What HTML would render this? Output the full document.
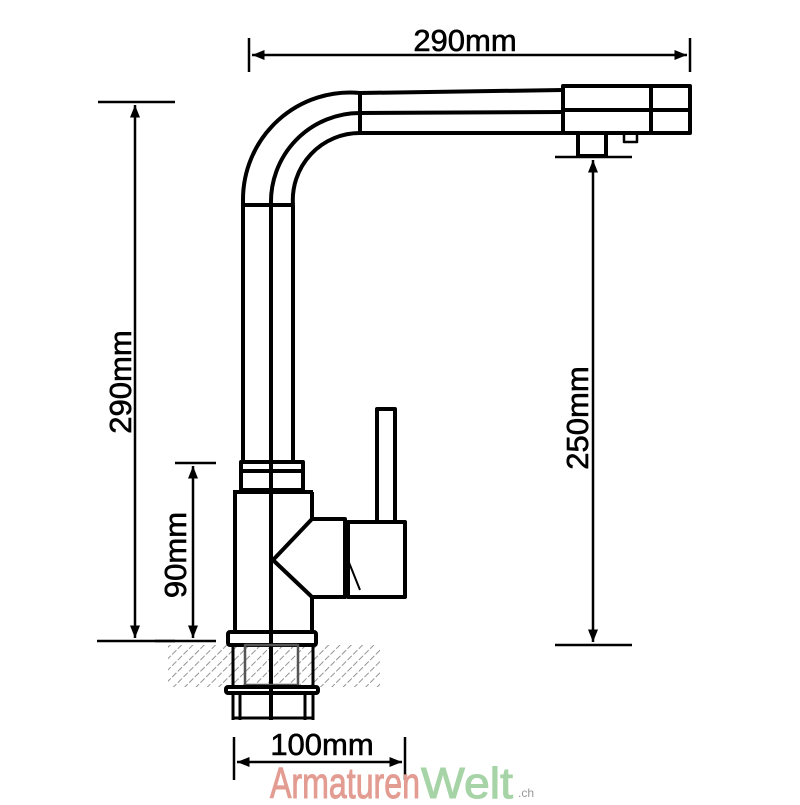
<!DOCTYPE html>
<html><head><style>html,body{margin:0;padding:0;background:#fff}</style></head>
<body>
<svg width="800" height="800" viewBox="0 0 800 800" xmlns="http://www.w3.org/2000/svg" font-family="Liberation Sans, sans-serif">
<defs>
<marker id="a" viewBox="0 0 10 10" refX="10" refY="5" markerWidth="5" markerHeight="5" orient="auto-start-reverse"><path d="M0,1 L10,5 L0,9 z" fill="#000"/></marker>
<pattern id="h" width="8" height="8" patternUnits="userSpaceOnUse" patternTransform="rotate(45)"><line x1="0" y1="0" x2="0" y2="8" stroke="#888" stroke-width="1.8" stroke-dasharray="5,2"/></pattern>
</defs>
<rect x="168" y="645" width="212" height="42" fill="url(#h)"/>
<g fill="none" stroke="#000" stroke-width="4" stroke-linejoin="round">
<path d="M243,205 L243,200 A107,107 0 0 1 360,93 L563,90"/>
<path d="M271,205 A89,89 0 0 1 360,113 L563,112"/>
<path d="M293,205 A67,67 0 0 1 360,133 L563,133"/>
<line x1="360" y1="93" x2="360" y2="133"/>
<line x1="243" y1="205" x2="293" y2="205"/>
<rect x="563" y="86" width="127" height="47"/>
<line x1="563" y1="110" x2="690" y2="110"/>
<line x1="651" y1="86" x2="651" y2="133"/>
<rect x="578" y="133" width="28" height="23"/>
<rect x="624" y="133" width="13" height="9" stroke-width="2.5"/>
<line x1="243" y1="205" x2="243" y2="462"/>
<line x1="271" y1="205" x2="271" y2="720"/>
<line x1="293" y1="205" x2="293" y2="462"/>
<rect x="241" y="462" width="62" height="28"/>
<line x1="241" y1="471" x2="303" y2="471"/>
<path d="M235,492 L235,632 M312,492 L312,519 M312,597 L312,632"/>
<line x1="233" y1="492" x2="313" y2="492"/>
<path d="M312,519 L345,519 L345,597 L312,597 L273,560 Z"/>
<rect x="348" y="522" width="57" height="75"/>
<path d="M348,560 L360,590" stroke-width="2"/>
<rect x="377" y="409" width="18" height="113"/>
<rect x="228" y="632" width="88" height="13" rx="2"/>
<path d="M233,645 L233,687 M313,645 L313,687" stroke-width="3"/>
<rect x="245" y="645" width="53" height="40" stroke="#555" stroke-width="2.5"/>
<rect x="226" y="687" width="92" height="6" rx="2"/>
<path d="M233,693 L233,720 M240,693 L240,720 M305,693 L305,720 M313,693 L313,720 M233,718 L313,718" stroke-width="3"/>
</g>
<g stroke="#000" stroke-width="2.5" fill="none">
<line x1="249" y1="38" x2="249" y2="72"/><line x1="690" y1="38" x2="690" y2="72"/>
<line x1="252" y1="55" x2="687" y2="55" marker-start="url(#a)" marker-end="url(#a)"/>
<line x1="98" y1="102" x2="175" y2="102"/><line x1="97" y1="641" x2="175" y2="641"/>
<line x1="135" y1="105" x2="135" y2="638" marker-start="url(#a)" marker-end="url(#a)"/>
<line x1="175" y1="463" x2="216" y2="463"/><line x1="155" y1="641" x2="216" y2="641"/>
<line x1="193" y1="466" x2="193" y2="638" marker-start="url(#a)" marker-end="url(#a)"/>
<line x1="555" y1="157" x2="632" y2="157"/><line x1="555" y1="645" x2="632" y2="645"/>
<line x1="593" y1="160" x2="593" y2="642" marker-start="url(#a)" marker-end="url(#a)"/>
<line x1="234" y1="737" x2="234" y2="780"/><line x1="405" y1="737" x2="405" y2="780"/>
<line x1="237" y1="762" x2="402" y2="762" marker-start="url(#a)" marker-end="url(#a)"/>
</g>
<g font-size="31" fill="#000" text-anchor="middle" stroke="#000" stroke-width="0.6">
<text x="465" y="51">290mm</text>
<text x="322" y="755">100mm</text>
<text transform="translate(131,382) rotate(-90)">290mm</text>
<text transform="translate(186,555) rotate(-90)">90mm</text>
<text transform="translate(588,418) rotate(-90)">250mm</text>
</g>
<text x="270" y="798" font-size="44" fill="#e39c92" stroke="#e39c92" stroke-width="1" textLength="150" lengthAdjust="spacingAndGlyphs">Armaturen</text>
<text x="421" y="798" font-size="44" fill="#a6d4a6" stroke="#a6d4a6" stroke-width="1" textLength="92" lengthAdjust="spacingAndGlyphs">Welt</text>
<text x="518" y="797" font-size="12" fill="#999">.ch</text>
</svg>
</body></html>
